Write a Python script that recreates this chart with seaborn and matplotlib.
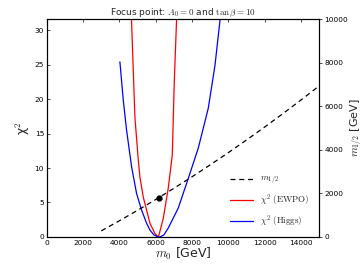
import matplotlib
matplotlib.use("Agg")
import matplotlib.pyplot as plt
import seaborn as sns

# values
ewpo_m0 = [4646, 4724, 4853, 5037, 5129, 5313, 5680, 5956, 6150,
           6416, 6692, 6912, 7022, 7151, 7169]
ewpo_chi2 = [33.0, 27.1, 17.4, 11.2, 8.7, 5.8, 2.0, 0.5, 0.0,
             2.7, 7.1, 11.9, 22.5, 31.7, 33.0]

higgs_m0 = [4026, 4210, 4393, 4669, 4945, 5221, 5496, 5680, 5900, 6100,
            6232, 6450, 6692, 7243, 7794, 8346, 8897, 9265, 9540, 9608]
higgs_chi2 = [25.4, 19.9, 15.5, 10.2, 6.3, 3.9, 2.0, 1.0, 0.3, 0.02,
              0.0, 0.3, 1.3, 4.2, 8.5, 12.9, 18.7, 24.9, 31.4, 33.0]

m12_m0 = [3000, 4000, 5000, 6000, 7000, 8000, 9000, 10000, 11000,
          12000, 13000, 14000, 15000]
m12_val = [280, 744, 1224, 1720, 2233, 2763, 3309, 3871, 4450,
           5045, 5657, 6285, 6930]

best_m0 = [6177]
best_m12 = [1780]

sns.set_style("white")
plt.rcParams["font.family"] = ["DejaVu Sans"]
plt.rcParams["mathtext.fontset"] = "cm"

fig = plt.figure(figsize=(3.63, 2.73), dpi=100)
ax = fig.add_axes([0.129, 0.132, 0.750, 0.798])
ax2 = ax.twinx()

l_ewpo, = ax.plot(ewpo_m0, ewpo_chi2, color="red", lw=0.9,
                  label=r"$\chi^2\ \mathrm{(EWPO)}$")
l_higgs, = ax.plot(higgs_m0, higgs_chi2, color="blue", lw=0.9,
                   label=r"$\chi^2\ \mathrm{(Higgs)}$")
l_m12, = ax2.plot(m12_m0, m12_val, color="black", lw=0.9, ls="--",
                  dashes=(4, 3), label=r"$m_{1/2}$")
ax2.plot(best_m0, best_m12, "o", color="black", ms=3.5)

ax.set_xlim(0, 15000)
ax.set_ylim(0, 31.6)
ax2.set_ylim(0, 10000)
ax.set_xticks(range(0, 15000, 2000))
ax.set_yticks(range(0, 31, 5))
ax2.set_yticks(range(0, 10001, 2000))

for a in (ax, ax2):
    a.tick_params(labelsize=5.3, direction="in", length=2.5, width=0.5,
                  pad=2, colors="black")
    for s in a.spines.values():
        s.set_linewidth(0.8)
        s.set_color("black")
ax.tick_params(top=True)
ax2.tick_params(direction="out", pad=1.5)

ax.set_xlabel(r"$m_0$ [GeV]", fontsize=9, labelpad=0)
ax.set_ylabel("χ$^2$", fontsize=9, labelpad=2)
ax2.set_ylabel(r"$m_{1/2}$ [GeV]", fontsize=8, labelpad=0)
ax.set_title(r"Focus point: $A_0=0$ and $\tan\beta=10$", fontsize=6.5,
             pad=2)

ax2.legend(handles=[l_m12, l_ewpo, l_higgs], loc="lower right",
           frameon=False, fontsize=6.5, handlelength=2.6,
           bbox_to_anchor=(0.995, 0.0), labelspacing=0.6)

fig.savefig("out.png", dpi=100)
